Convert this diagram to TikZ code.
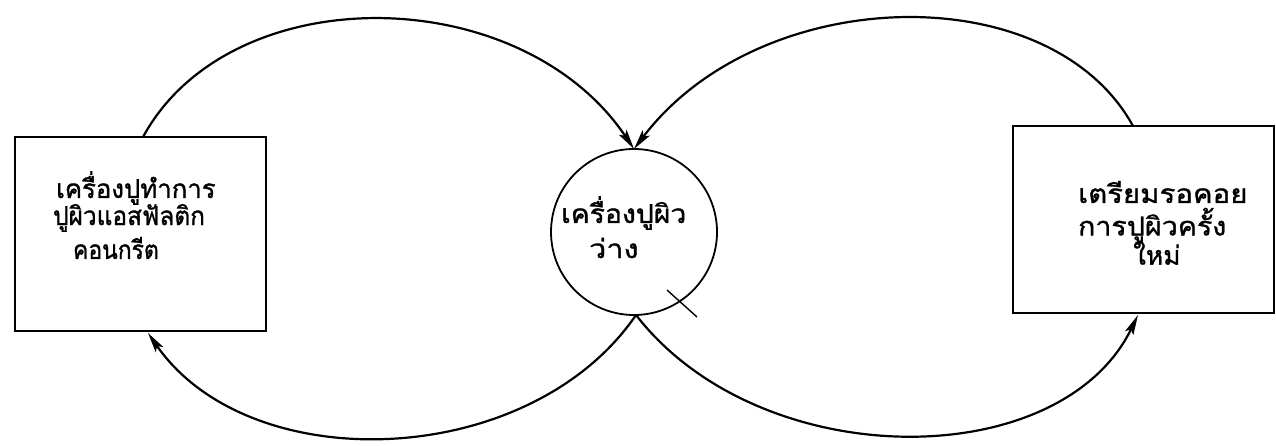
\documentclass[tikz,border=0pt]{standalone}
\usepackage{graphicx}
\usepackage{fontspec}
\newfontfamily\thaifont[Script=Thai,FakeBold=1.2]{Loma}
\newcommand\thx[2]{\scalebox{#1}[1]{#2}}
\usetikzlibrary{arrows.meta}
\begin{document}
\begin{tikzpicture}[x=1pt,y=1pt,
  line width=2.2pt,
  lbl/.style={font=\thaifont\fontsize{26}{30}\selectfont,inner sep=0pt,anchor=west},
  flow/.style={-{Stealth[length=20pt,width=9pt,inset=4pt]}}]
\useasboundingbox (0,0) rectangle (1276,445);
\node[draw,minimum width=251pt,minimum height=194pt,inner sep=0pt] (L) at (140.5,211) {};
\node[draw,minimum width=261pt,minimum height=187pt,inner sep=0pt] (R) at (1143.5,225.5) {};
\node[draw,circle,minimum size=166pt,inner sep=0pt,line width=1.8pt] (C) at (634,213) {};
\node[lbl] (l1) at (55,257) {\thx{0.99}{เครื่องปูทำการ}};
\node[lbl] (l2) at (52,227) {\thx{0.94}{ปูผิวแอสฟัลติก}};
\node[lbl] (l3) at (72,197) {\thx{0.88}{คอนกรีต}};
\node[lbl] (c1) at (560,232) {\thx{1.09}{เครื่องปูผิว}};
\node[lbl] (c2) at (588,197) {\thx{1.18}{ว่าง}};
\node[lbl] (r1) at (1077,253) {\thx{1.13}{เตรียมรอคอย}};
\node[lbl] (r2) at (1077,220) {\thx{1.10}{การปูผิวครั้ง}};
\node[lbl] (r3) at (1132,192) {\thx{1.01}{ใหม่}};
\coordinate (lt) at (143,308);
\coordinate (rt) at (1133,319);
\coordinate (lb) at (148,112);
\coordinate (rb) at (1138,130);
\coordinate (ct) at (634,296);
\coordinate (cb) at (636,130);
\draw[flow] (lt) .. controls (230,468) and (520,465) .. (ct);
\draw[flow] (rt) .. controls (1050,470) and (760,462) .. (ct);
\draw[flow] (cb) .. controls (530,-25) and (250,-35) .. (lb);
\draw[flow] (cb) .. controls (760,-30) and (1060,-30) .. (rb);
\coordinate (t1) at (667,155);
\coordinate (t2) at (697,128);
\draw[line width=1.4pt] (t1) -- (t2);
\end{tikzpicture}
\end{document}
